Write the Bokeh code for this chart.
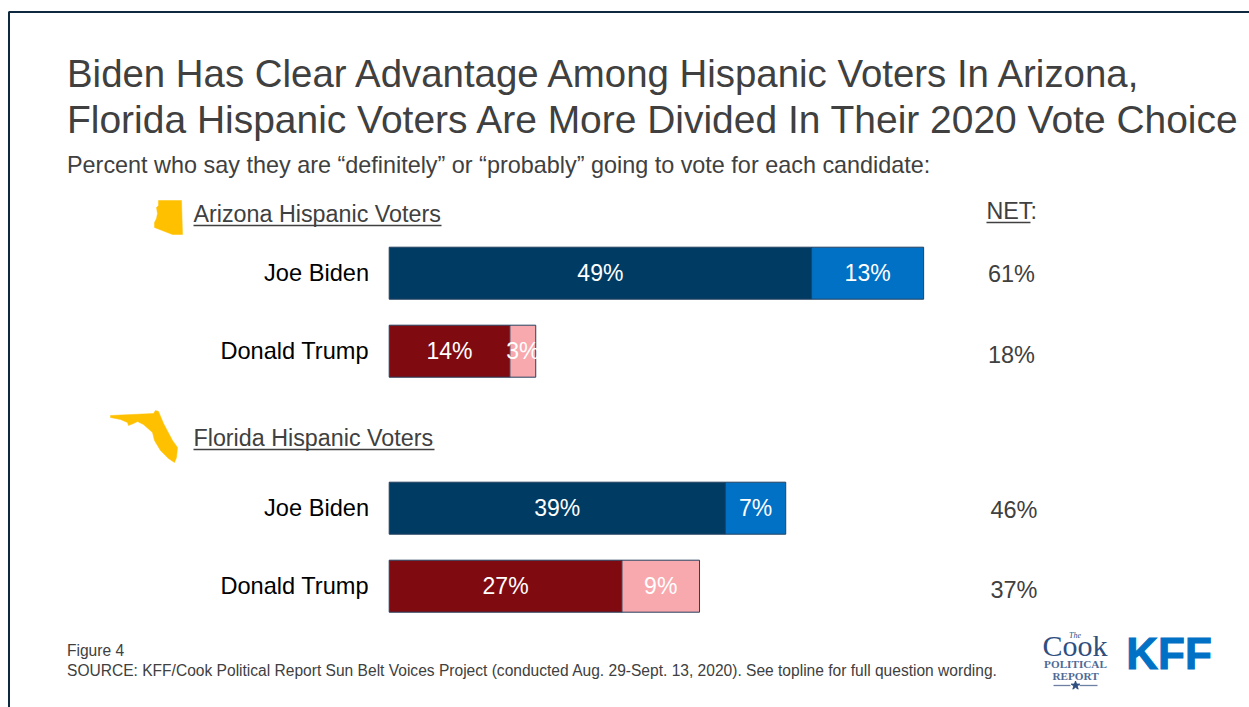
from bokeh.core.properties import value
from bokeh.embed import file_html
from bokeh.models import ColumnDataSource, Range1d
from bokeh.plotting import figure
from bokeh.resources import INLINE

# Survey results, percent of Hispanic voters
candidates = ["Joe Biden", "Donald Trump", "Joe Biden", "Donald Trump"]
definitely = [49, 14, 39, 27]
probably = [13, 3, 7, 9]
net_labels = ["61%", "18%", "46%", "37%"]

title_lines = [
    "Biden Has Clear Advantage Among Hispanic Voters In Arizona,",
    "Florida Hispanic Voters Are More Divided In Their 2020 Vote Choice",
]
subtitle = "Percent who say they are \u201cdefinitely\u201d or \u201cprobably\u201d going to vote for each candidate:"
figure_note = "Figure 4"
source_note = ("SOURCE: KFF/Cook Political Report Sun Belt Voices Project "
               "(conducted Aug. 29-Sept. 13, 2020). See topline for full question wording.")

W, H = 1249, 707
FONT = value("Liberation Sans")
PX_PER_PCT = 8.62
ZERO_X = 388.7

# Horizontal axis runs in percent; helper converts page pixels to it.
def px(x):
    return (x - ZERO_X) / PX_PER_PCT

p = figure(width=W, height=H, output_backend="svg", toolbar_location=None,
           x_range=Range1d(px(0), px(W)), y_range=Range1d(H, 0),
           min_border=0, outline_line_color=None, background_fill_color="white")
p.axis.visible = False
p.grid.visible = False

# Slide frame
p.line([px(8.5), px(8.5), px(W)], [H, 11.5, 11.5], line_color="#0f2a40", line_width=2)

# Stacked bars
row_y = [272.7, 350.7, 507.7, 585.7]
BAR_H = 52
NAVY, BLUE, RED, PINK = "#003b63", "#0071c5", "#7f0a10", "#f8a9ae"
dark_colors = [NAVY, RED, NAVY, RED]
light_colors = [BLUE, PINK, BLUE, PINK]
ends = [a + b for a, b in zip(definitely, probably)]

bars = ColumnDataSource(dict(
    y=row_y, a=definitely, b=probably, end=ends, zero=[0] * 4,
    dark=dark_colors, light=light_colors,
    a_mid=[a / 2 for a in definitely],
    b_mid=[a + b / 2 for a, b in zip(definitely, probably)],
    a_text=[f"{a}%" for a in definitely],
    b_text=[f"{b}%" for b in probably],
    names=candidates, net=net_labels,
))
p.hbar(y="y", left="zero", right="a", height=BAR_H, fill_color="dark",
       line_color="#24405f", line_width=1, source=bars)
p.hbar(y="y", left="a", right="end", height=BAR_H, fill_color="light",
       line_color="#24405f", line_width=1, source=bars)

for col, mid in (("a_text", "a_mid"), ("b_text", "b_mid")):
    p.text(x=mid, y="y", text=col, source=bars, text_color="white", text_font=FONT,
           text_font_size="23px", text_align="center", text_baseline="middle")

p.text(x=[px(368.5)] * 4, y=row_y, text=candidates, text_color="black", text_font=FONT,
       text_font_size="23.6px", text_align="right", text_baseline="middle")


def label(x, y, txt, size, color="#404040", align="left", font=FONT, style="normal"):
    p.text(x=[px(x)], y=[y], text=[txt], text_color=color, text_font=font,
           text_font_size=size, text_align=align, text_baseline="middle",
           text_font_style=style)


# Net column
net_xs = [1011, 1011, 1013.5, 1013.5]
net_ys = [273.5, 354.5, 509.5, 589.5]
for x, y, t in zip(net_xs, net_ys, net_labels):
    label(x, y, t, "23.5px", align="center")

# Heading block
label(66.5, 72.5, title_lines[0], "38.4px")
label(66.5, 118.5, title_lines[1], "38.96px")
label(66.5, 164.5, subtitle, "23.4px")

# Section headings with underlines
label(193, 213.5, "Arizona Hispanic Voters", "23.3px")
p.line([px(193), px(441)], [225, 225], line_color="#404040", line_width=1.3)
label(193, 437.5, "Florida Hispanic Voters", "23.3px")
p.line([px(193), px(434)], [449, 449], line_color="#404040", line_width=1.3)
label(986, 210.5, "NET:", "23.3px")
p.line([px(986), px(1030)], [222, 222], line_color="#404040", line_width=1.3)

# State outlines
GOLD = "#ffc000"
arizona_x = [158, 181, 182, 172, 154, 154, 156, 157, 156, 158]
arizona_y = [200, 200, 234, 234, 227, 222, 218, 213, 207, 205]
p.patch([px(v) for v in arizona_x], arizona_y, fill_color=GOLD, line_color=GOLD, line_width=0.5)
florida_x = [110, 153, 155, 158, 163, 172, 177, 176, 174, 168, 160, 154, 152, 143, 137, 133, 128, 127, 120, 115, 110]
florida_y = [415, 413, 410, 411, 423, 440, 447, 457, 462, 458, 450, 440, 432, 424, 421, 423, 425, 422, 419, 418, 417]
p.patch([px(v) for v in florida_x], florida_y, fill_color=GOLD, line_color=GOLD, line_width=0.5)

# Footer
label(66.5, 649.5, figure_note, "15.57px")
label(66.5, 669.5, source_note, "15.57px")

# Publisher marks
SERIF = value("Liberation Serif")
COOK = "#2f4f7f"
MUTED = "#4f6a96"
label(1074.5, 635, "The", "8px", color=COOK, align="center", font=SERIF, style="italic")
label(1074.5, 645, "Cook", "30px", color=COOK, align="center", font=SERIF)
label(1075, 663, "POLITICAL", "11.2px", color=MUTED, align="center", font=SERIF, style="bold")
label(1075, 675, "REPORT", "11.2px", color=MUTED, align="center", font=SERIF, style="bold")
p.line([px(1053), px(1070)], [685, 685], line_color="#6d80a3", line_width=1.3)
p.line([px(1079), px(1097)], [685, 685], line_color="#6d80a3", line_width=1.3)
p.scatter([px(1075)], [685], marker="star", size=9, fill_color=COOK, line_color=COOK)
p.text(x=[px(1168.5)], y=[652.5], text=["KFF"], text_color="#0071c5",
       text_font=FONT, text_font_size="44px",
       text_font_style="bold", text_align="center", text_baseline="middle",
       text_outline_color="#0071c5")

open("out.html", "w").write(file_html(p, INLINE))
